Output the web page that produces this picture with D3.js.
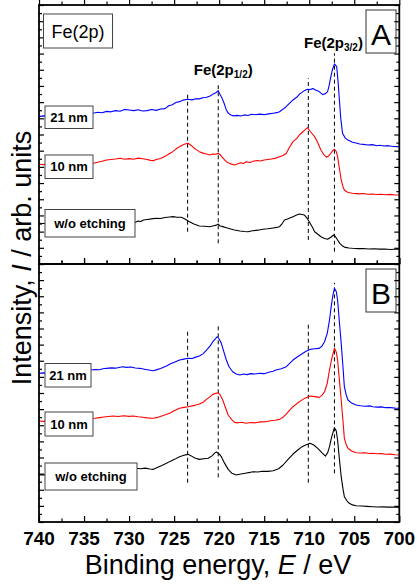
<!DOCTYPE html>
<html>
<head>
<meta charset="utf-8">
<script src="https://cdn.jsdelivr.net/npm/d3@7"></script>
<style>
  html, body { margin: 0; padding: 0; background: #fff; }
  svg { display: block; font-family: "Liberation Sans", Arial, sans-serif; }
</style>
</head>
<body>
<svg id="chart" width="417" height="586"></svg>
<script>
// Fe 2p XPS spectra, binding energy (eV) vs intensity (arb. units, offset for clarity)

// Panel A spectra
const panelA_21nm = [[740,18.21],[739.5,18.30],[739,18.25],[738.5,18.38],[738,18.32],[737.5,18.45],[737,18.42],[736.5,18.50],[736,18.44],[735.5,18.58],[735,18.52],[734.5,18.66],[734,18.63],[733.5,18.75],[733,18.68],[732.5,18.86],[732,18.80],[731.5,18.95],[731,18.88],[730.5,19.10],[730,19.02],[729.5,18.95],[729,19.05],[728.5,18.90],[728,18.95],[727.5,19.08],[727,18.98],[726.5,19.15],[726,19.20],[725.6,19.55],[725.2,19.68],[724.8,19.95],[724.4,20.06],[724,20.25],[723.5,20.36],[723,20.28],[722.6,20.42],[722.2,20.40],[721.8,20.55],[721.4,20.60],[721,20.75],[720.6,21.05],[720.3,21.20],[720.1,21.42],[719.9,20.95],[719.7,20.55],[719.4,19.70],[719.2,19.03],[719,18.65],[718.7,18.40],[718.4,18.30],[718,18.36],[717.6,18.28],[717.2,18.42],[716.8,18.35],[716.4,18.50],[716,18.44],[715.5,18.52],[715,18.45],[714.5,18.55],[714,18.63],[713.6,18.70],[713.3,18.82],[713,19.05],[712.6,19.40],[712.2,19.85],[711.8,20.27],[711.4,20.60],[711.1,20.97],[710.8,21.20],[710.5,21.45],[710.2,21.59],[709.9,21.55],[709.6,21.67],[709.3,21.50],[708.9,21.30],[708.5,20.93],[708.2,21.05],[707.96,21.30],[707.8,22.0],[707.6,23.15],[707.4,24.1],[707.2,24.72],[706.95,24.39],[706.8,22.6],[706.65,20.27],[706.5,18.0],[706.3,16.15],[706,15.55],[705.7,15.33],[705.2,15.05],[704.8,14.95],[704.4,14.83],[704,14.78],[703.5,14.70],[703,14.75],[702.5,14.62],[702.2,14.67],[701.7,14.58],[701.2,14.62],[700.7,14.52],[700.2,14.50],[700,14.45]];
const panelA_10nm = [[740,12.32],[739.5,12.28],[739,12.35],[738.5,12.30],[738,12.40],[737.5,12.33],[737,12.36],[736.5,12.42],[736,12.38],[735.5,12.45],[735,12.40],[734.5,12.48],[734,12.45],[733.5,12.58],[733,12.70],[732.5,12.85],[732,12.92],[731.5,12.98],[731,13.06],[730.5,12.95],[730,13.02],[729.5,12.94],[729,13.08],[728.5,13.00],[728,12.92],[727.6,12.80],[727.3,12.77],[727,12.90],[726.5,13.04],[726,13.30],[725.6,13.60],[725.2,13.85],[724.8,14.20],[724.4,14.50],[724,14.72],[723.7,14.85],[723.45,14.92],[723.1,14.65],[722.8,14.34],[722.5,14.10],[722.2,13.88],[721.8,13.70],[721.4,13.58],[721.05,13.47],[720.7,13.60],[720.4,13.55],[720.1,13.68],[719.8,13.40],[719.5,13.00],[719.2,12.64],[718.8,12.40],[718.3,12.24],[718,12.35],[717.6,12.50],[717.3,12.42],[717,12.64],[716.6,12.55],[716.2,12.70],[715.8,12.79],[715.4,12.72],[715,12.85],[714.6,12.92],[714.2,12.98],[713.8,13.05],[713.3,13.26],[712.9,13.40],[712.55,13.68],[712.2,14.40],[711.8,15.12],[711.4,15.50],[711.1,15.94],[710.8,16.25],[710.5,16.55],[710.2,16.85],[709.9,16.40],[709.6,16.00],[709.4,15.73],[709.1,15.10],[708.7,14.09],[708.4,13.55],[708.1,13.19],[707.85,13.35],[707.6,13.68],[707.4,14.00],[707.2,14.18],[707.0,13.90],[706.85,13.26],[706.65,11.80],[706.45,10.38],[706.25,9.55],[706.1,9.15],[705.8,8.90],[705.5,8.80],[705.2,8.74],[704.8,8.70],[704.4,8.66],[704,8.72],[703.5,8.62],[703,8.65],[702.5,8.58],[702,8.62],[701.5,8.55],[701,8.60],[700.5,8.53],[700,8.52]];
const panelA_raw = [[740,5.03],[739.5,5.00],[739,5.06],[738.5,5.02],[738,5.08],[737,5.05],[736,5.10],[735,5.07],[734,5.12],[733,5.08],[732,5.14],[731,5.10],[730,5.15],[729.4,5.10],[729,5.30],[728.7,5.25],[728.4,5.44],[728,5.50],[727.5,5.58],[727,5.65],[726.5,5.62],[726,5.75],[725.5,5.80],[725.1,5.85],[724.7,5.78],[724.2,5.77],[723.8,5.55],[723.3,5.23],[722.8,4.95],[722.2,4.70],[721.6,4.66],[721.05,4.61],[720.6,4.72],[720.3,4.80],[720.1,4.94],[719.9,4.70],[719.6,4.62],[719.2,4.49],[718.8,4.35],[718.3,4.20],[717.7,4.08],[717.2,4.02],[716.8,3.99],[716.3,4.10],[715.7,4.18],[715.15,4.29],[714.6,4.35],[714,4.45],[713.6,4.52],[713.3,4.61],[713,5.00],[712.75,5.44],[712.4,5.55],[712.1,5.70],[711.8,5.85],[711.4,6.05],[711.1,6.18],[710.8,6.12],[710.55,6.06],[710.2,5.60],[709.9,5.03],[709.6,4.45],[709.4,3.99],[709.0,3.65],[708.7,3.37],[708.3,3.15],[707.96,3.05],[707.6,3.30],[707.3,3.58],[707.1,3.40],[706.85,2.97],[706.6,2.55],[706.3,2.22],[706,2.05],[705.6,1.98],[705.2,1.94],[704.6,1.90],[704,1.92],[703.4,1.86],[702.8,1.88],[702.2,1.84],[701.6,1.86],[701,1.80],[700.5,1.83],[700,1.82]];

// Panel B spectra
const panelB_21nm = [[740,18.44],[739.5,18.50],[739,18.46],[738.5,18.55],[738,18.52],[737.5,18.60],[737,18.58],[736.5,18.66],[736,18.62],[735.5,18.72],[735,18.70],[734.5,18.80],[734.2,18.85],[733.8,18.92],[733.3,18.88],[732.9,19.00],[732.5,19.06],[732,19.12],[731.5,19.08],[731,19.20],[730.7,19.26],[730.3,19.18],[729.8,19.22],[729.3,19.10],[728.8,19.06],[728.3,18.95],[727.8,18.85],[727.3,18.76],[726.9,18.90],[726.5,19.05],[725.85,19.34],[725.4,19.62],[724.9,19.85],[724.4,20.09],[723.9,20.20],[723.45,20.30],[723,20.28],[722.6,20.45],[722.2,20.58],[721.8,20.85],[721.4,21.33],[721.0,21.85],[720.7,22.36],[720.4,22.75],[720.2,22.98],[720.0,22.70],[719.76,22.16],[719.5,21.20],[719.2,20.09],[718.9,19.25],[718.5,18.64],[718.1,18.35],[717.7,18.23],[717.3,18.35],[716.9,18.28],[716.5,18.40],[716,18.36],[715.5,18.44],[715,18.40],[714.5,18.58],[714,18.70],[713.7,18.85],[713.1,19.00],[712.55,19.26],[712.2,19.65],[711.8,20.09],[711.3,20.50],[710.7,20.92],[710.3,21.20],[709.9,21.41],[709.4,21.48],[708.9,21.54],[708.6,21.80],[708.3,22.36],[708.0,23.40],[707.75,25.05],[707.55,26.80],[707.4,27.94],[707.2,28.98],[707.0,28.60],[706.85,27.53],[706.65,24.80],[706.45,22.16],[706.25,19.20],[706.1,16.78],[705.9,15.80],[705.7,15.13],[705.3,14.75],[704.8,14.51],[704.3,14.42],[703.8,14.36],[703.3,14.40],[702.95,14.30],[702.5,14.25],[702,14.28],[701.5,14.18],[701,14.20],[700.5,14.12],[700,14.10]];
const panelB_10nm = [[740,12.52],[739.5,12.48],[739,12.56],[738.5,12.52],[738,12.60],[737.5,12.58],[737,12.66],[736.5,12.62],[736,12.70],[735.5,12.68],[735,12.75],[734.4,12.80],[733.8,12.86],[733.3,12.95],[732.8,13.02],[732.3,13.08],[731.8,13.14],[731.2,13.08],[730.6,13.18],[730,13.10],[729.55,13.14],[729,13.05],[728.5,13.00],[728,12.92],[727.6,12.88],[727.3,12.86],[726.8,12.98],[726.2,13.20],[725.5,13.48],[725,13.80],[724.4,14.10],[723.9,14.22],[723.45,14.30],[723,14.40],[722.6,14.50],[722.2,14.63],[721.8,14.85],[721.4,15.21],[721.0,15.55],[720.7,15.83],[720.4,15.95],[720.1,16.03],[719.85,15.70],[719.6,15.13],[719.3,14.20],[719.0,13.27],[718.6,12.70],[718.3,12.36],[717.9,12.30],[717.5,12.38],[717.0,12.24],[716.5,12.35],[716,12.30],[715.4,12.42],[714.8,12.44],[714.3,12.55],[713.8,12.62],[713.3,12.73],[712.9,13.00],[712.55,13.39],[712.2,13.85],[711.8,14.30],[711.3,14.75],[710.7,15.21],[710.3,15.45],[709.9,15.62],[709.4,15.55],[708.9,15.46],[708.6,15.70],[708.3,16.16],[708.0,17.20],[707.75,18.85],[707.55,20.00],[707.4,20.71],[707.2,21.54],[707.0,21.10],[706.85,20.09],[706.65,17.60],[706.45,15.13],[706.25,12.50],[706.1,10.38],[705.9,9.60],[705.7,9.14],[705.3,8.80],[704.8,8.59],[704.3,8.55],[703.8,8.58],[703.3,8.50],[702.95,8.52],[702.5,8.46],[702,8.48],[701.5,8.40],[701,8.42],[700.5,8.35],[700,8.31]];
const panelB_raw = [[740,5.83],[739.5,5.86],[739,5.82],[738.5,5.90],[738,5.88],[737.5,5.95],[737,5.92],[736.5,6.00],[736,5.98],[735.5,6.05],[735,6.08],[734.5,6.12],[734,6.18],[733.5,6.25],[733,6.30],[732.5,6.38],[732,6.42],[731.5,6.50],[731,6.55],[730.5,6.60],[730,6.62],[729.6,6.70],[729.2,6.66],[728.7,6.60],[728.2,6.68],[727.7,6.58],[727.3,6.53],[726.8,6.80],[726.3,7.05],[725.85,7.28],[725.4,7.55],[724.9,7.80],[724.4,8.10],[723.9,8.28],[723.45,8.39],[723.1,8.20],[722.7,7.95],[722.2,7.77],[721.7,7.85],[721.2,7.90],[720.8,8.20],[720.5,8.55],[720.3,8.68],[720.0,8.45],[719.76,8.10],[719.4,7.30],[719.0,6.53],[718.6,6.05],[718.1,5.83],[717.6,5.95],[717.1,6.05],[716.6,6.15],[716.25,6.24],[715.7,6.20],[715.2,6.30],[714.6,6.28],[714.0,6.36],[713.4,6.60],[712.9,7.07],[712.4,7.70],[711.8,8.43],[711.3,8.90],[710.9,9.26],[710.4,9.55],[709.9,9.76],[709.5,9.55],[709.05,9.14],[708.6,8.60],[708.2,8.18],[707.95,8.60],[707.75,9.34],[707.5,10.60],[707.2,11.69],[707.0,11.30],[706.85,10.17],[706.65,7.80],[706.45,5.62],[706.25,4.10],[706.1,3.14],[705.8,2.60],[705.55,2.32],[705.2,2.12],[704.8,2.02],[704.2,1.98],[703.6,1.94],[702.95,1.90],[702.4,1.86],[701.8,1.88],[701.2,1.84],[700.6,1.86],[700,1.82]];

// Sample names and curve colours
const sampleNames = ["21 nm", "10 nm", "w/o etching"];
const sampleColors = ["#0000ff", "#ff0000", "#000000"];

// Reference peak energies (eV) and the intensity span of each guide line
const peakEnergies = [723.5, 720.1, 710.1, 707.2];
const guideSpanA = [[3.99, 21.30], [2.56, 22.41], [2.97, 22.95], [1.52, 26.04]];
const guideSpanB = [[4.87, 23.72], [5.54, 24.30], [4.87, 24.84], [6.04, 29.67]];

// Axis ticks
const energyMajorTicks = [740, 735, 730, 725, 720, 715, 710, 705, 700];
const energyMinorTicks = [737.5, 732.5, 727.5, 722.5, 717.5, 712.5, 707.5, 702.5];
const intensityTicks = d3.range(0, 33, 1);

const svg = d3.select("#chart");
const left = 39, right = 399.3;
const panels = [
  { top: 5, bottom: 264, series: [panelA_21nm, panelA_10nm, panelA_raw], guides: guideSpanA, tag: "A",
    labelBoxes: [[106, 128.5, 48], [155, 178.5, 48], [209.5, 237, 90]] },
  { top: 264, bottom: 522, series: [panelB_21nm, panelB_10nm, panelB_raw], guides: guideSpanB, tag: "B",
    labelBoxes: [[363.5, 387, 46], [412, 436, 48], [463, 490, 92]] }
];

const x = d3.scaleLinear().domain([740, 700]).range([left, right]);

panels.forEach((p) => {
  const y = d3.scaleLinear().domain([0, 32]).range([p.bottom, p.top]);
  const g = svg.append("g");

  // dashed guide lines at the Fe 2p reference energies
  g.selectAll("line.guide").data(peakEnergies).join("line")
    .attr("class", "guide")
    .attr("x1", d => x(d)).attr("x2", d => x(d))
    .attr("y1", (d, i) => y(p.guides[i][0])).attr("y2", (d, i) => y(p.guides[i][1]))
    .attr("stroke", "#000").attr("stroke-width", 1).attr("stroke-dasharray", "4,3");

  // spectra
  const line = d3.line().x(d => x(d[0])).y(d => y(d[1]));
  p.series.forEach((s, si) => {
    g.append("path").datum(s).attr("d", line)
      .attr("fill", "none").attr("stroke", sampleColors[si]).attr("stroke-width", 1.1)
      .attr("stroke-linejoin", "round");
  });

  // sample labels in boxes
  p.labelBoxes.forEach((b, i) => {
    g.append("rect").attr("x", 45).attr("y", b[0]).attr("width", b[2]).attr("height", b[1] - b[0])
      .attr("fill", "#fff").attr("stroke", "#444").attr("stroke-width", 1);
    g.append("text").attr("x", 45 + b[2] / 2).attr("y", (b[0] + b[1]) / 2 + 4.6)
      .attr("text-anchor", "middle").attr("font-weight", "bold").attr("font-size", 13)
      .text(sampleNames[i]);
  });

  // panel tag
  const tagTop = p.top + 5;
  g.append("rect").attr("x", 366).attr("y", tagTop).attr("width", 30).attr("height", 43)
    .attr("fill", "#fff").attr("stroke", "#333").attr("stroke-width", 1);
  g.append("text").attr("x", 381).attr("y", tagTop + 35).attr("text-anchor", "middle")
    .attr("font-size", 30).text(p.tag);

  // axes with inward ticks on all four sides
  const major = (axis, size) => axis.tickValues(energyMajorTicks).tickSize(size).tickFormat("");
  const minor = (axis, size) => axis.tickValues(energyMinorTicks).tickSize(size).tickFormat("");
  [[d3.axisBottom, p.bottom, -6, -3.5], [d3.axisTop, p.top, 6, 3.5]].forEach(([fn, yy, a, b]) => {
    g.append("g").attr("transform", `translate(0,${yy})`).call(major(fn(x), a));
    g.append("g").attr("transform", `translate(0,${yy})`).call(minor(fn(x), b));
  });
  g.append("g").attr("transform", `translate(${left},0)`)
    .call(d3.axisLeft(y).tickValues(intensityTicks.filter(v => v % 2 === 0)).tickFormat("").tickSize(-5));
  g.append("g").attr("transform", `translate(${left},0)`)
    .call(d3.axisLeft(y).tickValues(intensityTicks.filter(v => v % 2 === 1)).tickFormat("").tickSize(-3));
  g.append("g").attr("transform", `translate(${right},0)`)
    .call(d3.axisRight(y).tickValues(intensityTicks.filter(v => v % 2 === 0)).tickFormat("").tickSize(-5));
  g.append("g").attr("transform", `translate(${right},0)`)
    .call(d3.axisRight(y).tickValues(intensityTicks.filter(v => v % 2 === 1)).tickFormat("").tickSize(-3));

  g.append("rect").attr("x", left).attr("y", p.top).attr("width", right - left).attr("height", p.bottom - p.top)
    .attr("fill", "none").attr("stroke", "#000").attr("stroke-width", 1.8);
});

svg.selectAll(".domain").remove();
svg.selectAll(".tick line").attr("stroke", "#000").attr("stroke-width", 1.2);

// energy tick labels under panel B
svg.append("g").selectAll("text").data(energyMajorTicks).join("text")
  .attr("x", d => x(d)).attr("y", 545)
  .attr("text-anchor", "middle").attr("font-weight", "bold").attr("font-size", 19)
  .text(d => d);

// peak annotations
const ann = svg.append("g").attr("font-weight", "bold").attr("font-size", 15).attr("text-anchor", "middle");
const fe12 = ann.append("text").attr("x", x(720.1) + 5).attr("y", 75);
fe12.append("tspan").text("Fe(2p");
fe12.append("tspan").attr("font-size", 10).attr("dy", 3).text("1/2");
fe12.append("tspan").attr("dy", -3).text(")");
const fe32 = ann.append("text").attr("x", x(707.2) - 1).attr("y", 48);
fe32.append("tspan").text("Fe(2p");
fe32.append("tspan").attr("font-size", 10).attr("dy", 3).text("3/2");
fe32.append("tspan").attr("dy", -3).text(")");

// element box
svg.append("rect").attr("x", 43.5).attr("y", 14).attr("width", 69).attr("height", 34)
  .attr("fill", "#fff").attr("stroke", "#444").attr("stroke-width", 1);
svg.append("text").attr("x", 78).attr("y", 38).attr("text-anchor", "middle").attr("font-size", 18).text("Fe(2p)");

// axis titles
const xt = svg.append("text").attr("x", 218).attr("y", 574).attr("text-anchor", "middle").attr("font-size", 27);
xt.append("tspan").text("Binding energy, ");
xt.append("tspan").attr("font-style", "italic").text("E");
xt.append("tspan").text(" / eV");

const yt = svg.append("text").attr("transform", "translate(31,258) rotate(-90)").attr("text-anchor", "middle").attr("font-size", 27);
yt.append("tspan").text("Intensity, ");
yt.append("tspan").attr("font-style", "italic").text("I");
yt.append("tspan").text(" / arb. units");
</script>
</body>
</html>
